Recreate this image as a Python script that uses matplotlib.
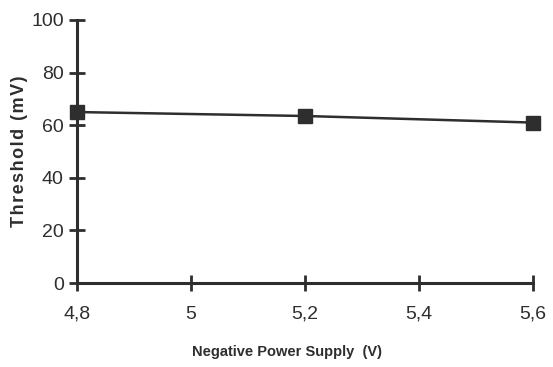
import matplotlib
matplotlib.use("Agg")
import matplotlib.pyplot as plt

supply_v = [4.8, 5.2, 5.6]
threshold_mv = [65, 63.5, 61]
xticks = [4.8, 5.0, 5.2, 5.4, 5.6]
xtick_labels = ["4,8", "5", "5,2", "5,4", "5,6"]
yticks = [0, 20, 40, 60, 80, 100]

col = "#2e2e2e"
fig = plt.figure(figsize=(5.53, 3.67), dpi=100)
ax = fig.add_axes([77 / 553, 1 - 283 / 367, 456 / 553, 263 / 367])
ax.plot(supply_v, threshold_mv, color=col, lw=1.8, marker="s", ms=10,
        mfc=col, mec=col, clip_on=False, zorder=3)
ax.set_xlim(4.8, 5.6)
ax.set_ylim(0, 100)
ax.set_xticks(xticks)
ax.set_xticklabels(xtick_labels)
ax.set_yticks(yticks)
for s in ["top", "right"]:
    ax.spines[s].set_visible(False)
for s in ["left", "bottom"]:
    ax.spines[s].set_linewidth(2.2)
    ax.spines[s].set_color(col)
ax.tick_params(direction="inout", length=11, width=2, color=col,
               labelsize=14, labelcolor=col)
ax.tick_params(axis="x", pad=11)
ax.tick_params(axis="y", pad=4)
for lab in ax.get_xticklabels() + ax.get_yticklabels():
    lab.set_fontfamily("Liberation Sans")

hs = "\u200a"
ylab = hs.join("Threshold (mV)")
ax.set_xlabel("Negative Power Supply  (V)", fontfamily="Liberation Sans",
              fontweight="bold", fontsize=10.5, color=col, ha="center", va="center")
ax.set_ylabel(ylab, fontfamily=["Liberation Sans", "DejaVu Sans"], fontweight="bold",
              fontsize=13, color=col, ha="center", va="center")
ax.xaxis.set_label_coords((287 - 77) / 456, (283 - 352) / 263)
ax.yaxis.set_label_coords((20 - 77) / 456, 0.5)
fig.savefig("out.png", dpi=100)
